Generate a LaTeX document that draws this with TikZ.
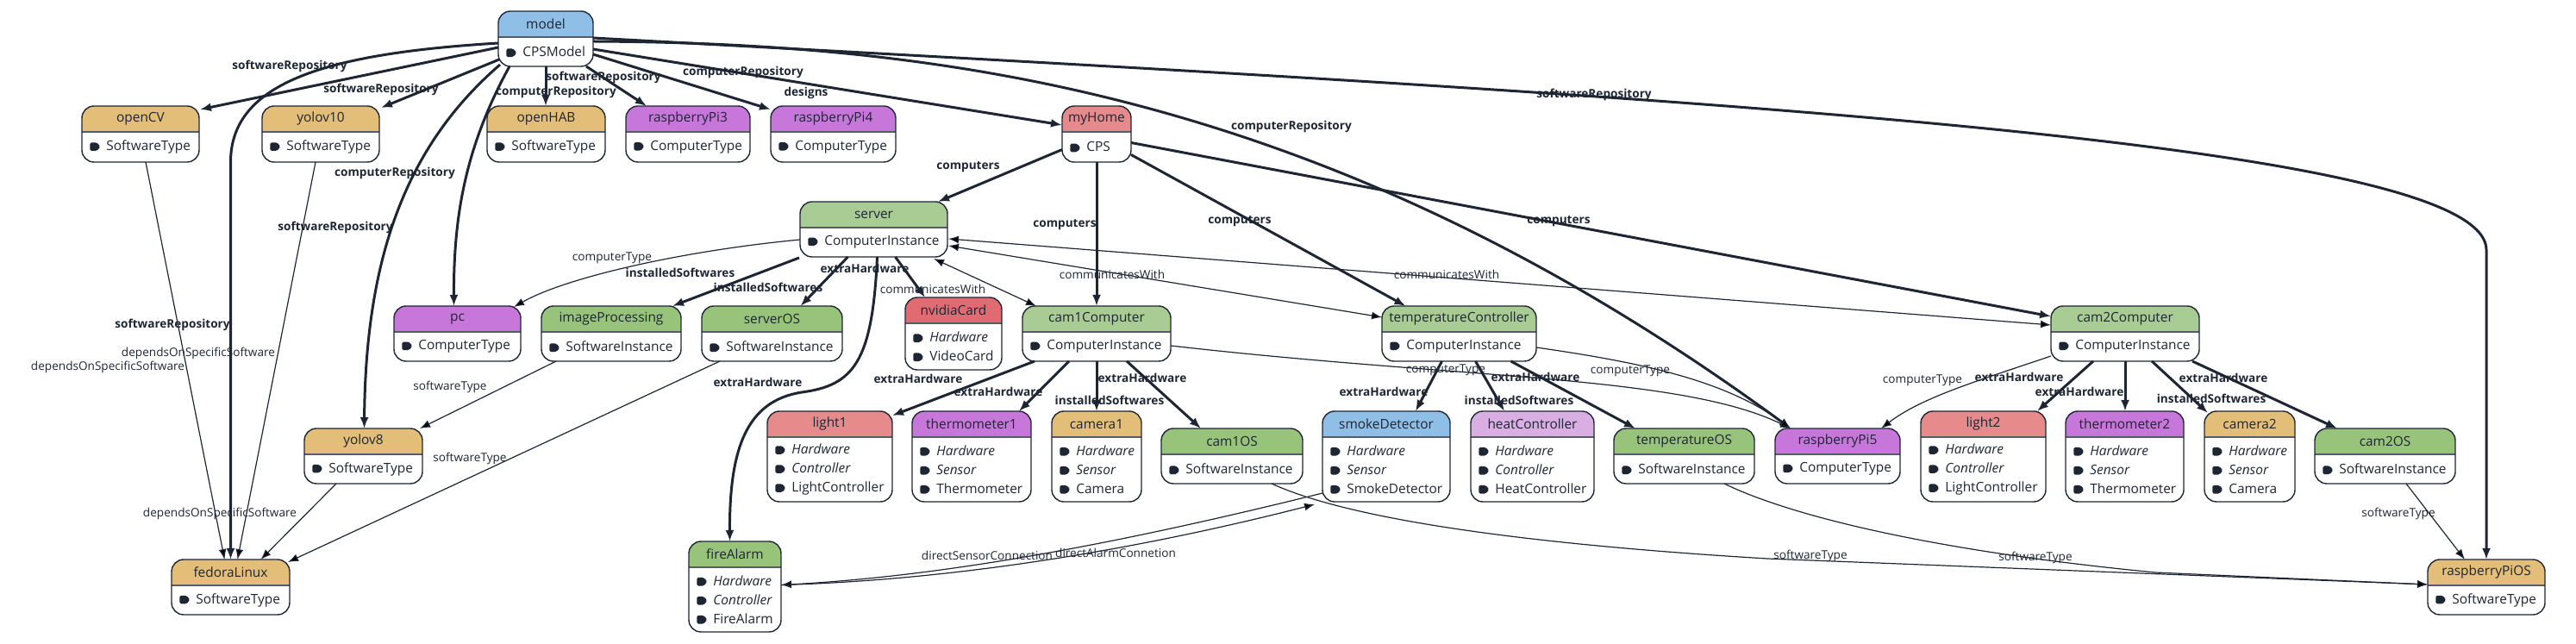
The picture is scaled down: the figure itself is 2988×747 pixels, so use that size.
\documentclass[tikz,border=0pt]{standalone}
\usepackage{fontspec}
\setmainfont{Open Sans}
\usetikzlibrary{arrows.meta,calc}

\definecolor{ink}{HTML}{1E2533}
\definecolor{cpsblue}{HTML}{8FBEE7}
\definecolor{swtype}{HTML}{E3BE78}
\definecolor{comptype}{HTML}{C777DA}
\definecolor{compinst}{HTML}{A9CB94}
\definecolor{swinst}{HTML}{98C37A}
\definecolor{cpspink}{HTML}{E68A8C}
\definecolor{cardred}{HTML}{E06B73}
\definecolor{heatlav}{HTML}{D9AFE3}

% tag mark in front of each type line
\newcommand{\tg}{\tikz[baseline=0pt]\fill[ink,rounded corners=0.8pt] (0pt,-0.2pt) -- (4pt,-0.2pt) -- (6pt,2.2pt) -- (4pt,4.6pt) -- (0pt,4.6pt) -- cycle;\hspace{3.5pt}}
% object box: name, left, top, width, height, header colour, title, lines
\newcommand{\obj}[8]{%
  \node[objbox, minimum width=#4*0.5pt, minimum height=#5*0.5pt] (#1) at (#2,#3) {};
  \begin{scope}
    \clip[rounded corners=7pt] (#1.north west) rectangle (#1.south east);
    \fill[#6] (#1.north west) rectangle ($(#1.north east)+(0,30)$);
  \end{scope}
  \draw[ink!75, line width=0.6pt] ($(#1.north west)+(0,30)$) -- ($(#1.north east)+(0,30)$);
  \draw[ink, line width=0.7pt, rounded corners=7pt] (#1.north west) rectangle (#1.south east);
  \node[objtext] at ($(#1.north)+(0,15)$) {#7};
  \node[objtext, anchor=west, align=left] at ($(#1.north west)!0.5!(#1.south west)+(9,15)$) {#8};
}

\begin{document}
\begin{tikzpicture}[x=0.5pt, y=-0.5pt,
  objbox/.style={fill=white, inner sep=0pt, outer sep=0pt, anchor=north west},
  objtext/.style={text=ink, inner sep=0pt, font=\fontsize{7.7}{11}\selectfont},
  ref/.style={draw=ink, line width=1.5pt, -{Latex[length=6.5pt,width=5pt]}},
  lnk/.style={draw=ink, line width=0.6pt, -{Latex[length=6pt,width=4.5pt]}},
  lnkb/.style={draw=ink, line width=0.6pt, {Latex[length=6pt,width=4.5pt]}-{Latex[length=6pt,width=4.5pt]}},
  bl/.style={text=ink, inner sep=0pt, font=\bfseries\fontsize{6.8}{8}\selectfont},
  rl/.style={text=ink, inner sep=0pt, font=\fontsize{6.8}{8}\selectfont}]
\useasboundingbox (0,0) rectangle (2988,747);

% model and repositories
\obj{model}{578}{13}{110}{64}{cpsblue}{model}{\tg CPSModel}
\obj{openCV}{95}{123}{136}{65}{swtype}{openCV}{\tg SoftwareType}
\obj{yolov10}{304}{123}{136}{65}{swtype}{yolov10}{\tg SoftwareType}
\obj{openHAB}{565}{123}{137}{65}{swtype}{openHAB}{\tg SoftwareType}
\obj{raspberryPi3}{726}{123}{144}{65}{comptype}{raspberryPi3}{\tg ComputerType}
\obj{raspberryPi4}{894}{123}{145}{65}{comptype}{raspberryPi4}{\tg ComputerType}
\obj{myHome}{1232}{123}{80}{65}{cpspink}{myHome}{\tg CPS}
\obj{pc}{457}{355}{147}{64}{comptype}{pc}{\tg ComputerType}
\obj{yolov8}{353}{497}{137}{64}{swtype}{yolov8}{\tg SoftwareType}
\obj{fedoraLinux}{199}{649}{137}{64}{swtype}{fedoraLinux}{\tg SoftwareType}
\obj{raspberryPi5}{2059}{497}{145}{64}{comptype}{raspberryPi5}{\tg ComputerType}
\obj{raspberryPiOS}{2816}{649}{136}{64}{swtype}{raspberryPiOS}{\tg SoftwareType}

% computers
\obj{server}{928}{234}{171}{64}{compinst}{server}{\tg ComputerInstance}
\obj{imageProcessing}{628}{355}{162}{64}{swinst}{imageProcessing}{\tg SoftwareInstance}
\obj{serverOS}{814}{355}{163}{64}{swinst}{serverOS}{\tg SoftwareInstance}
\obj{nvidiaCard}{1050}{345}{112}{84}{cardred}{nvidiaCard}{\tg\textit{Hardware}\\\tg VideoCard}
\obj{fireAlarm}{799}{628}{107}{105}{swinst}{fireAlarm}{\tg\textit{Hardware}\\\tg\textit{Controller}\\\tg FireAlarm}
\obj{cam1Computer}{1186}{355}{172}{64}{compinst}{cam1Computer}{\tg ComputerInstance}
\obj{light1}{890}{477}{145}{105}{cpspink}{light1}{\tg\textit{Hardware}\\\tg\textit{Controller}\\\tg LightController}
\obj{thermometer1}{1058}{477}{138}{105}{comptype}{thermometer1}{\tg\textit{Hardware}\\\tg\textit{Sensor}\\\tg Thermometer}
\obj{camera1}{1220}{477}{104}{105}{swtype}{camera1}{\tg\textit{Hardware}\\\tg\textit{Sensor}\\\tg Camera}
\obj{cam1OS}{1347}{497}{164}{64}{swinst}{cam1OS}{\tg SoftwareInstance}
\obj{temperatureController}{1603}{355}{179}{64}{compinst}{temperatureController}{\tg ComputerInstance}
\obj{smokeDetector}{1534}{477}{148}{105}{cpsblue}{smokeDetector}{\tg\textit{Hardware}\\\tg\textit{Sensor}\\\tg SmokeDetector}
\obj{heatController}{1706}{477}{143}{105}{heatlav}{heatController}{\tg\textit{Hardware}\\\tg\textit{Controller}\\\tg HeatController}
\obj{temperatureOS}{1872}{497}{163}{64}{swinst}{temperatureOS}{\tg SoftwareInstance}
\obj{cam2Computer}{2379}{355}{172}{64}{compinst}{cam2Computer}{\tg ComputerInstance}
\obj{light2}{2228}{477}{145}{105}{cpspink}{light2}{\tg\textit{Hardware}\\\tg\textit{Controller}\\\tg LightController}
\obj{thermometer2}{2396}{477}{137}{105}{comptype}{thermometer2}{\tg\textit{Hardware}\\\tg\textit{Sensor}\\\tg Thermometer}
\obj{camera2}{2557}{477}{105}{105}{swtype}{camera2}{\tg\textit{Hardware}\\\tg\textit{Sensor}\\\tg Camera}
\obj{cam2OS}{2685}{497}{163}{64}{swinst}{cam2OS}{\tg SoftwareInstance}

% references of the model
\draw[ref] ($(model.west)+(0,10)$) -- ($(openCV.north east)+(1,4)$) node[bl] at (336,77) {softwareRepository};
\draw[ref] ($(model.south west)+(1,-8)$) -- ($(yolov10.north east)+(2,2)$) node[bl] at (442,104) {softwareRepository};
\draw[ref] ($(model.west)+(0,5)$) .. controls (380,62) and (267.5,95) .. (fedoraLinux.north |- openCV.south) -- (fedoraLinux.north) node[bl] at (200,377) {softwareRepository};
\draw[ref] ($(model.south west)+(2,-2)$) .. controls (470,170) and (424,300) .. ($(yolov8.north)+(1,0)$) node[bl] at (389,264) {softwareRepository};
\draw[ref] ($(model.south west)+(13,0)$) .. controls (540,170) and (526,250) .. ($(pc.north)+(-4,0)$) node[bl] at (458,201) {computerRepository};
\draw[ref] (model.south) -- (model.south |- openHAB.north) node[bl] at (700,90) {softwareRepository};
\draw[ref] ($(model.south east)+(-8,0)$) -- ($(raspberryPi3.north west)+(24,0)$) node[bl] at (645,107) {computerRepository};
\draw[ref] ($(model.east)+(0,18)$) -- ($(raspberryPi4.north west)+(0,4)$) node[bl] at (862,84) {computerRepository};
\draw[ref] ($(model.east)+(0,12)$) -- ($(myHome.north west)+(0,22)$) node[bl] at (935,108) {designs};
\draw[ref] ($(model.east)+(0,3)$) .. controls (1100,50) and (1550,110) .. ($(raspberryPi5.north west)+(18,0)$) node[bl] at (1498,147) {computerRepository};
\draw[ref] ($(model.east)+(0,-1)$) .. controls (1900,110) and (2884,160) .. (2884,290) -- (raspberryPiOS.north) node[bl] at (1849,110) {softwareRepository};

% computers of the CPS
\draw[ref] ($(myHome.west)+(0,18)$) -- ($(server.north east)+(-11,0)$) node[bl] at (1123,194) {computers};
\draw[ref] (myHome.south) -- (cam1Computer.north) node[bl] at (1235,261) {computers};
\draw[ref] ($(myHome.east)+(0,24)$) -- ($(temperatureController.north)+(-62,0)$) node[bl] at (1438,257) {computers};
\draw[ref] ($(myHome.east)+(0,10)$) -- ($(cam2Computer.north west)+(0,12)$) node[bl] at (1808,257) {computers};

% server
\draw[lnk] ($(server.west)+(0,12)$) .. controls (800,290) and (660,320) .. ($(pc.north east)+(-8,1)$) node[rl] at (710,299) {computerType};
\draw[ref] ($(server.south west)+(-1,1)$) -- ($(imageProcessing.north east)+(-10,0)$) node[bl] at (789,316) {installedSoftwares};
\draw[ref] ($(server.south)+(-30,0)$) -- ($(serverOS.north)+(33,0)$) node[bl] at (891,333) {installedSoftwares};
\draw[ref] ($(server.south)+(25,0)$) -- ($(nvidiaCard.north west)+(23,0)$) node[bl] at (1003,311) {extraHardware};
\draw[ref] ($(server.south)+(4,0)$) .. controls (1012,420) and (990,447) .. (930,455) .. controls (866,465) and (846,520) .. ($(fireAlarm.north)+(-6,0)$) node[bl] at (879,443) {extraHardware};
\draw[lnkb] ($(server.south east)+(-16,2)$) -- ($(cam1Computer.north west)+(16,0)$) node[rl] at (1082,335) {communicatesWith};
\draw[lnkb] ($(server.east)+(1,19)$) -- ($(temperatureController.west)+(0,-19)$) node[rl] at (1290,318) {communicatesWith};
\draw[lnkb] ($(server.east)+(1,11)$) -- ($(cam2Computer.west)+(0,-10)$) node[rl] at (1678,318) {communicatesWith};

% cam1Computer
\draw[ref] ($(cam1Computer.south west)+(14,0)$) -- ($(light1.north east)+(0,5)$) node[bl] at (1065,439) {extraHardware};
\draw[ref] ($(cam1Computer.south west)+(54,0)$) -- ($(thermometer1.north east)+(-14,0)$) node[bl] at (1158,454) {extraHardware};
\draw[ref] (cam1Computer.south) -- (camera1.north) node[bl] at (1325,438) {extraHardware};
\draw[ref] ($(cam1Computer.south)+(35,0)$) -- ($(cam1OS.north west)+(46,0)$) node[bl] at (1287,464) {installedSoftwares};
\draw[lnk] ($(cam1Computer.east)+(0,14)$) .. controls (1700,440) and (1950,435) .. ($(raspberryPi5.north west)+(18,0)$) node[rl] at (1677,429) {computerType};

% temperatureController
\draw[lnk] ($(temperatureController.east)+(0,16)$) .. controls (1900,420) and (2000,440) .. ($(raspberryPi5.north west)+(18,0)$) node[rl] at (1891,430) {computerType};
\draw[ref] ($(temperatureController.south)+(-20,0)$) -- ($(smokeDetector.north)+(34,0)$) node[bl] at (1605,454) {extraHardware};
\draw[ref] ($(temperatureController.south)+(19,0)$) -- ($(heatController.north west)+(39,0)$) node[bl] at (1781,437) {extraHardware};
\draw[ref] ($(temperatureController.south)+(60,0)$) -- ($(temperatureOS.north west)+(25,0)$) node[bl] at (1762,464) {installedSoftwares};

% cam2Computer
\draw[lnk] ($(cam2Computer.west)+(0,26)$) .. controls (2300,440) and (2230,460) .. ($(raspberryPi5.north east)+(-22,0)$) node[rl] at (2230,441) {computerType};
\draw[ref] ($(cam2Computer.south west)+(49,0)$) -- ($(light2.north east)+(-10,0)$) node[bl] at (2342,437) {extraHardware};
\draw[ref] (cam2Computer.south) -- (cam2Computer.south |- thermometer2.north) node[bl] at (2412,454) {extraHardware};
\draw[ref] ($(cam2Computer.south)+(31,0)$) -- ($(camera2.north west)+(4,2)$) node[bl] at (2579,438) {extraHardware};
\draw[ref] ($(cam2Computer.south)+(78,0)$) -- ($(cam2OS.north west)+(26,0)$) node[bl] at (2565,462) {installedSoftwares};

% software types
\draw[lnk] ($(cam2OS.south west)+(106,0)$) -- ($(raspberryPiOS.north west)+(43,0)$) node[rl] at (2782,596) {softwareType};
\draw[lnk] ($(cam1OS.south east)+(-36,0)$) .. controls (1560,600) and (1750,630) .. (2050,648) -- ($(raspberryPiOS.west)+(0,-3)$) node[rl] at (2100,645) {softwareType};
\draw[lnk] ($(temperatureOS.south east)+(-35,0)$) .. controls (2080,600) and (2250,640) .. (2500,664) -- ($(raspberryPiOS.west)+(0,-3)$) node[rl] at (2361,647) {softwareType};
\draw[lnk] ($(serverOS.south west)+(21,0)$) -- ($(fedoraLinux.north east)+(-2,3)$) node[rl] at (545,532) {softwareType};
\draw[lnk] ($(imageProcessing.south west)+(17,0)$) -- ($(yolov8.north east)+(-3,0)$) node[rl] at (522,449) {softwareType};
\draw[lnk] ($(openCV.south)+(6,0)$) -- ($(fedoraLinux.north)+(-7,0)$) node[rl] at (125,426) {dependsOnSpecificSoftware};
\draw[lnk] ($(yolov10.south)+(-6,0)$) -- ($(fedoraLinux.north)+(8,0)$) node[rl] at (230,410) {dependsOnSpecificSoftware};
\draw[lnk] ($(yolov8.south west)+(37,0)$) -- ($(fedoraLinux.north)+(35,0)$) node[rl] at (255,596) {dependsOnSpecificSoftware};

% alarm wiring
\draw[lnk] ($(smokeDetector.south west)+(0,-10)$) .. controls (1300,630) and (1100,668) .. ($(fireAlarm.east)+(0,-2)$) node[rl] at (1294,641) {directAlarmConnetion};
\draw[lnk] ($(fireAlarm.east)+(0,-2)$) .. controls (1100,673) and (1310,640) .. ($(smokeDetector.south west)+(-9,3)$) node[rl] at (1145,644) {directSensorConnection};
\end{tikzpicture}
\end{document}
